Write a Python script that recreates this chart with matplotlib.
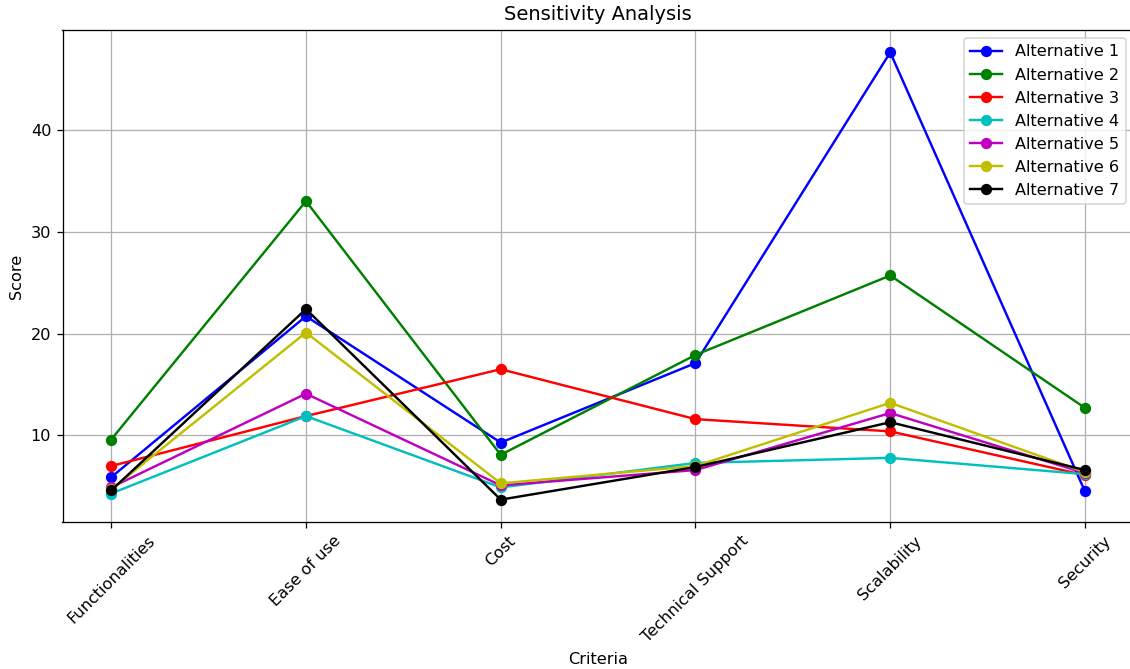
import numpy as np
import matplotlib
matplotlib.use("Agg")
import matplotlib.pyplot as plt

criteria = ['Functionalities', 'Ease of use', 'Cost', 'Technical Support', 'Scalability', 'Security']

alt1 = [5.9, 21.7, 9.3, 17.1, 47.6, 4.5]
alt2 = [9.6, 33.0, 8.1, 17.9, 25.7, 12.7]
alt3 = [7.0, 11.9, 16.5, 11.6, 10.4, 6.1]
alt4 = [4.3, 11.9, 4.9, 7.3, 7.8, 6.2]
alt5 = [4.9, 14.1, 5.1, 6.6, 12.2, 6.3]
alt6 = [4.7, 20.1, 5.3, 7.0, 13.2, 6.4]
alt7 = [4.6, 22.4, 3.7, 6.9, 11.3, 6.6]

scores = [alt1, alt2, alt3, alt4, alt5, alt6, alt7]
colors = ['b', 'g', 'r', 'c', 'm', 'y', 'k']

dpi = 116
fig, ax = plt.subplots(figsize=(1130 / dpi, 669 / dpi), dpi=dpi)

for i, s in enumerate(scores):
    ax.plot(criteria, s, marker='o', color=colors[i], label='Alternative %d' % (i + 1))

ax.set_title('Sensitivity Analysis')
ax.set_xlabel('Criteria')
ax.set_ylabel('Score')
ax.set_yticks([10, 20, 30, 40])
plt.xticks(rotation=45)
ax.legend(loc='upper right')
ax.grid(True)

# the right spine falls just outside the saved picture
fig.subplots_adjust(left=62.5 / 1130, right=1133.7 / 1130, top=1 - 30 / 669, bottom=1 - 522 / 669)
fig.savefig('out.png', dpi=dpi)
